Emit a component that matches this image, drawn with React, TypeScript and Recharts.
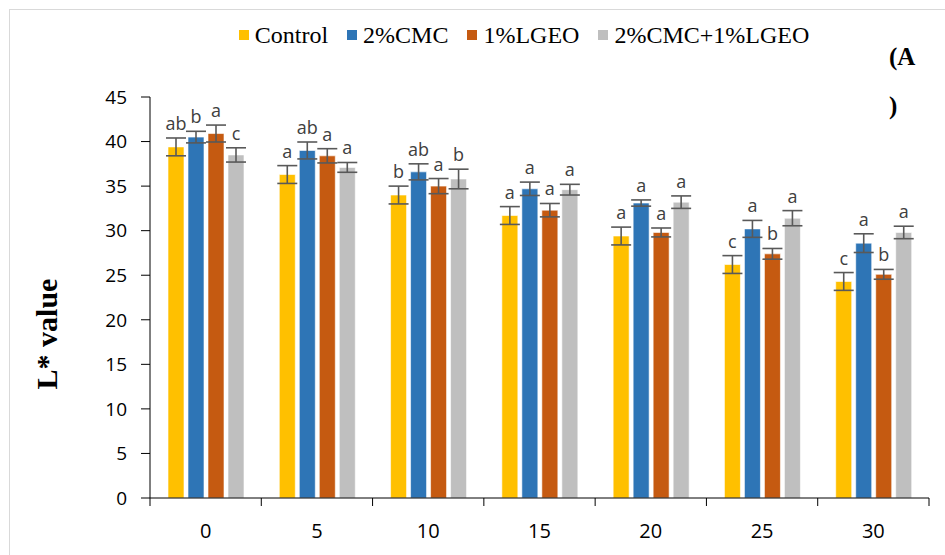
import React from 'react';
import { ComposedChart, Bar, XAxis, YAxis, ErrorBar, LabelList } from 'recharts';

const days = ['0', '5', '10', '15', '20', '25', '30'];

const control = [39.4, 36.3, 34.0, 31.7, 29.4, 26.2, 24.3];
const cmc = [40.5, 39.0, 36.6, 34.7, 33.1, 30.2, 28.6];
const lgeo = [40.9, 38.4, 35.0, 32.3, 29.8, 27.4, 25.1];
const combo = [38.5, 37.1, 35.8, 34.6, 33.2, 31.4, 29.8];

const controlErr = [1.0, 1.0, 1.0, 1.0, 1.0, 1.0, 1.0];
const cmcErr = [0.65, 0.95, 0.9, 0.75, 0.35, 0.95, 1.05];
const lgeoErr = [0.95, 0.8, 0.85, 0.75, 0.5, 0.6, 0.55];
const comboErr = [0.8, 0.55, 1.1, 0.6, 0.7, 0.85, 0.7];

const controlLetters = ['ab', 'a', 'b', 'a', 'a', 'c', 'c'];
const cmcLetters = ['b', 'ab', 'ab', 'a', 'a', 'a', 'a'];
const lgeoLetters = ['a', 'a', 'a', 'a', 'a', 'b', 'b'];
const comboLetters = ['c', 'a', 'b', 'a', 'a', 'a', 'a'];

const yTicks = [0, 5, 10, 15, 20, 25, 30, 35, 40, 45];
const xTicks = [0, 0.5, 1, 1.5, 2, 2.5, 3, 3.5, 4, 4.5, 5, 5.5, 6, 6.5, 7];

const serif = "'Liberation Serif', 'Times New Roman', serif";
const sans = "'Open Sans', sans-serif";

const series = [
  { key: 'control', name: 'Control', color: '#FFC000', vals: control, err: controlErr, letters: controlLetters },
  { key: 'cmc', name: '2%CMC', color: '#2E75B6', vals: cmc, err: cmcErr, letters: cmcLetters },
  { key: 'lgeo', name: '1%LGEO', color: '#C55A11', vals: lgeo, err: lgeoErr, letters: lgeoLetters },
  { key: 'combo', name: '2%CMC+1%LGEO', color: '#BFBFBF', vals: combo, err: comboErr, letters: comboLetters },
];

const data = days.map((d, i) => {
  const row: any = { day: d, pos: i + 0.5 };
  series.forEach((s) => {
    row[s.key] = s.vals[i];
    row[s.key + 'Err'] = s.err[i];
  });
  return row;
});

// letter sits just above the top of the error bar
const makeLetter = (s: any) => (props: any) => {
  const { x, y, width, height, index } = props;
  const pxPerUnit = height / s.vals[index];
  const top = y - s.err[index] * pxPerUnit;
  return (
    <text x={x + width / 2} y={top - 8} textAnchor="middle" fontSize={18}
      style={{ fontFamily: sans }} fill="#404040">
      {s.letters[index]}
    </text>
  );
};

// integer positions = category boundaries (tick marks), halves = labels
const XTick = (props: any) => {
  const { x, y, payload } = props;
  const v = payload.value;
  if (Number.isInteger(v)) {
    return <line x1={x} x2={x} y1={y} y2={y + 8} stroke="#000" strokeWidth={1} />;
  }
  return (
    <text x={x} y={y + 40} textAnchor="middle" fontSize={20}
      style={{ fontFamily: sans }} fill="#000">
      {days[Math.floor(v)]}
    </text>
  );
};

export default function App() {
  return (
    <div style={{ position: 'absolute', left: 0, top: 0, width: 945, height: 555, background: '#fff' }}>
      <svg width={945} height={555} style={{ position: 'absolute', left: 0, top: 0 }}>
        <rect x={9.5} y={9.5} width={945} height={560} fill="none" stroke="#d9d9d9" />
        <text x={889} y={65} fontSize={25} fontWeight="bold" style={{ fontFamily: serif }}>(A</text>
        <text x={889} y={114} fontSize={25} fontWeight="bold" style={{ fontFamily: serif }}>)</text>
        <text transform="translate(57,334) rotate(-90)" textAnchor="middle" fontSize={30} fontWeight="bold"
          style={{ fontFamily: serif }}>L* value</text>
      </svg>
      <div style={{ position: 'absolute', top: 20, left: 104, width: 840, display: 'flex', justifyContent: 'center',
        gap: 19, fontFamily: serif, fontSize: 24, lineHeight: '30px', color: '#000' }}>
        {series.map((s) => (
          <div key={s.key} style={{ display: 'flex', alignItems: 'center' }}>
            <span style={{ display: 'inline-block', width: 10, height: 10, background: s.color, marginRight: 6 }} />
            <span>{s.name}</span>
          </div>
        ))}
      </div>
      <ComposedChart width={945} height={555} data={data}
        margin={{ top: 97, right: 16, left: 90, bottom: 17 }}
        barSize={16} barGap={4} style={{ position: 'absolute', left: 0, top: 0 }}>
        <XAxis xAxisId="cat" dataKey="day" hide height={0} />
        <XAxis xAxisId="num" type="number" dataKey="pos" domain={[0, 7]} ticks={xTicks} interval={0}
          height={40} tickLine={false} tickSize={0} tickMargin={0} tick={<XTick />}
          axisLine={{ stroke: '#000' }} allowDataOverflow />
        <YAxis domain={[0, 45]} ticks={yTicks} width={60} tickSize={9} tickMargin={14}
          axisLine={{ stroke: '#000' }} tickLine={{ stroke: '#000' }}
          tick={{ fontSize: 19, fill: '#000', fontFamily: sans }} />
        {series.map((s) => (
          <Bar key={s.key} xAxisId="cat" dataKey={s.key} name={s.name} fill={s.color}
            stroke="#fff" strokeWidth={0.6} isAnimationActive={false}>
            <ErrorBar dataKey={s.key + 'Err'} width={10} stroke="#595959" strokeWidth={1.6} />
            <LabelList dataKey={s.key} content={makeLetter(s)} />
          </Bar>
        ))}
      </ComposedChart>
    </div>
  );
}
